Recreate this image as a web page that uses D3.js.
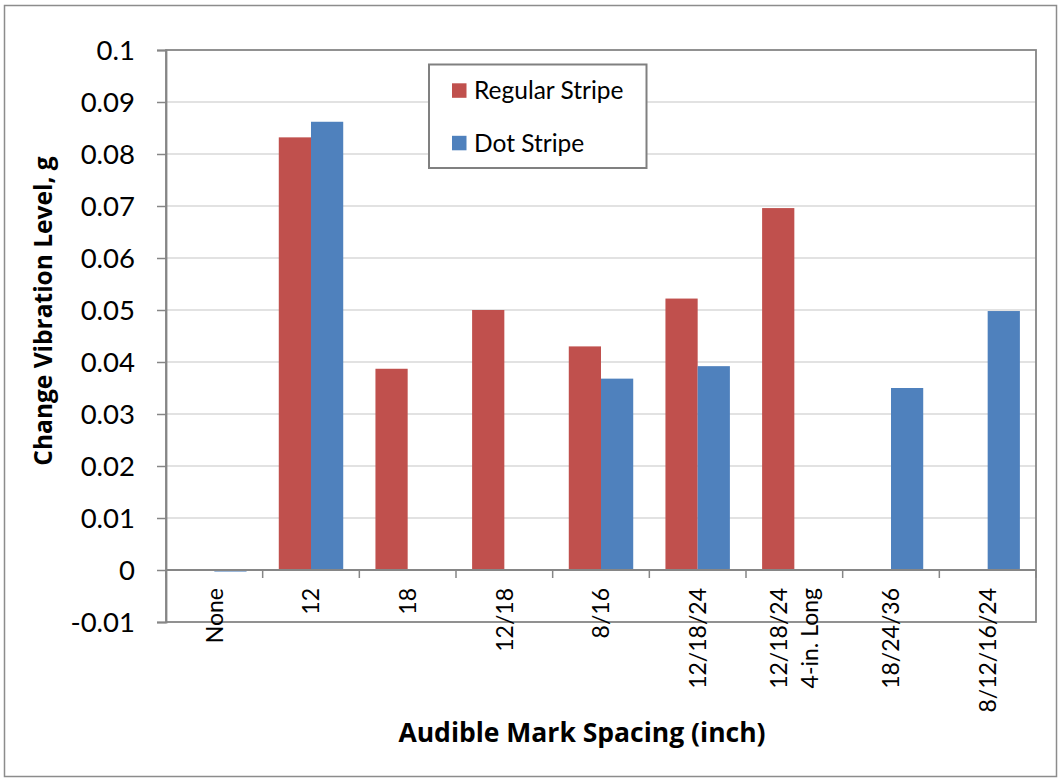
<!DOCTYPE html>
<html>
<head>
<meta charset="utf-8">
<script src="https://cdn.jsdelivr.net/npm/d3@7"></script>
<style>
  html, body { margin: 0; padding: 0; background: #fff; }
  svg { display: block; font-family: Lato, "Open Sans", sans-serif; }
</style>
</head>
<body>
<svg id="chart" width="1061" height="782"></svg>
<script>
// Change in vibration level by audible mark spacing
const categories = ["None", "12", "18", "12/18", "8/16", "12/18/24", "12/18/24\n4-in. Long", "18/24/36", "8/12/16/24"];
const seriesNames = ["Regular Stripe", "Dot Stripe"];
const regularStripe = [0, 0.0832, 0.0387, 0.0500, 0.0430, 0.0522, 0.0696, null, null];
const dotStripe = [-0.0003, 0.0862, null, null, 0.0368, 0.0392, null, 0.0350, 0.0498];
const yTickValues = [-0.01, 0, 0.01, 0.02, 0.03, 0.04, 0.05, 0.06, 0.07, 0.08, 0.09, 0.1];
const yTickLabels = ["-0.01", "0", "0.01", "0.02", "0.03", "0.04", "0.05", "0.06", "0.07", "0.08", "0.09", "0.1"];
const seriesColors = ["#C0504D", "#4F81BD"];

const svg = d3.select("#chart");
const plot = { left: 166, right: 1036, top: 50, bottom: 622 };
const axisGray = "#868686";
const titleFont = "'Open Sans', Lato, sans-serif";

// outer chart frame
svg.append("rect")
  .attr("x", 4.5).attr("y", 5.5).attr("width", 1052).attr("height", 771)
  .attr("fill", "#fff").attr("stroke", "#8c8c8c").attr("stroke-width", 1.5);

const x = d3.scaleBand().domain(categories).range([plot.left, plot.right]).paddingInner(0).paddingOuter(0);
const xs = d3.scaleBand().domain(seriesNames).range([0, x.bandwidth()]).paddingInner(0).paddingOuter(0.5);
const y = d3.scaleLinear().domain([-0.01, 0.1]).range([plot.bottom, plot.top]);

// horizontal gridlines
svg.append("g").selectAll("line")
  .data(yTickValues.filter(v => v !== 0 && v !== -0.01 && v !== 0.1))
  .join("line")
  .attr("x1", plot.left).attr("x2", plot.right)
  .attr("y1", d => y(d)).attr("y2", d => y(d))
  .attr("stroke", "#d9d9d9").attr("stroke-width", 1.5);

// bars
const rows = categories.map((c, i) => ({ cat: c, values: [regularStripe[i], dotStripe[i]] }));
svg.append("g").selectAll("g")
  .data(rows)
  .join("g")
  .attr("transform", d => `translate(${x(d.cat)},0)`)
  .selectAll("rect")
  .data(d => d.values.map((v, k) => ({ v, k })).filter(e => e.v !== null && e.v !== 0))
  .join("rect")
  .attr("x", d => xs(seriesNames[d.k]))
  .attr("width", xs.bandwidth())
  .attr("y", d => Math.min(y(d.v), y(0)))
  .attr("height", d => Math.max(Math.abs(y(d.v) - y(0)), 1.5))
  .attr("fill", d => seriesColors[d.k]);

// plot area frame
svg.append("rect")
  .attr("x", plot.left).attr("y", plot.top)
  .attr("width", plot.right - plot.left).attr("height", plot.bottom - plot.top)
  .attr("fill", "none").attr("stroke", axisGray).attr("stroke-width", 1.8);

// y axis
const yAxis = d3.axisLeft(y)
  .tickValues(yTickValues)
  .tickFormat((d, i) => yTickLabels[i])
  .tickSize(9).tickPadding(22);
const gy = svg.append("g").attr("transform", `translate(${plot.left},0)`).call(yAxis);
gy.select(".domain").attr("stroke", axisGray).attr("stroke-width", 1.8);
gy.selectAll(".tick line").attr("stroke", axisGray).attr("stroke-width", 1.5);
gy.selectAll(".tick text")
  .attr("font-family", "Lato, sans-serif").attr("font-size", 27.5)
  .attr("fill", "#000").attr("dy", "0.36em");

// x axis along zero
const zeroY = y(0);
svg.append("line")
  .attr("x1", plot.left).attr("x2", plot.right)
  .attr("y1", zeroY).attr("y2", zeroY)
  .attr("stroke", axisGray).attr("stroke-width", 1.8);
const bounds = categories.map(c => x(c)).concat([plot.right]);
svg.append("g").selectAll("line")
  .data(bounds)
  .join("line")
  .attr("x1", d => d).attr("x2", d => d)
  .attr("y1", zeroY).attr("y2", zeroY + 8)
  .attr("stroke", axisGray).attr("stroke-width", 1.5);

// category labels, rotated
const labelTop = 588;
const lineGap = 31;
const xl = svg.append("g")
  .attr("font-family", "Lato, sans-serif").attr("font-size", 23).attr("fill", "#000");
categories.forEach(c => {
  const lines = c.split("\n");
  const cx = x(c) + x.bandwidth() / 2;
  lines.forEach((ln, j) => {
    const off = (j - (lines.length - 1) / 2) * lineGap;
    xl.append("text")
      .attr("transform", `translate(${cx + off},${labelTop}) rotate(-90)`)
      .attr("text-anchor", "end")
      .attr("dy", "0.36em")
      .text(ln);
  });
});

// axis titles
svg.append("text")
  .attr("x", 582).attr("y", 742)
  .attr("text-anchor", "middle")
  .attr("font-family", titleFont).attr("font-weight", "bold").attr("font-size", 26.5)
  .attr("fill", "#000")
  .text("Audible Mark Spacing (inch)");
svg.append("text")
  .attr("transform", "translate(52,311) rotate(-90)")
  .attr("text-anchor", "middle")
  .attr("font-family", titleFont).attr("font-weight", "bold").attr("font-size", 24.5)
  .attr("fill", "#000")
  .text("Change Vibration Level, g");

// legend
const legend = svg.append("g");
legend.append("rect")
  .attr("x", 429).attr("y", 64.5).attr("width", 217.5).attr("height", 103.5)
  .attr("fill", "#fff").attr("stroke", "#808080").attr("stroke-width", 2);
const legendRows = [90.5, 143];
seriesNames.forEach((name, i) => {
  legend.append("rect")
    .attr("x", 452).attr("y", legendRows[i] - 7.2).attr("width", 14.5).attr("height", 14.5)
    .attr("fill", seriesColors[i]);
  legend.append("text")
    .attr("x", 474).attr("y", legendRows[i]).attr("dy", "0.36em")
    .attr("font-family", "Lato, sans-serif").attr("font-size", 24.5).attr("fill", "#000")
    .text(name);
});
</script>
</body>
</html>
